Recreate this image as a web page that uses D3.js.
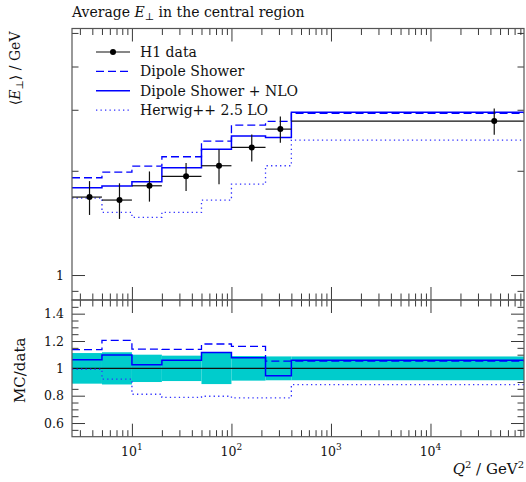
<!DOCTYPE html>
<html>
<head>
<meta charset="utf-8">
<script src="https://cdn.jsdelivr.net/npm/d3@7"></script>
<style>
  body { margin: 0; background: #fff; }
  text { font-family: "DejaVu Serif", "Liberation Serif", serif; fill: #111; }
</style>
</head>
<body>
<div id="container"></div>
<script>
// Chart data
const binEdges = [2.5, 5, 10, 20, 50, 100, 220, 400, 87000]; // Q^2 bins / GeV^2
const h1Data = [1.679, 1.646, 1.810, 1.927, 2.068, 2.336, 2.638, 2.783];
const h1Err = [0.188, 0.194, 0.181, 0.179, 0.238, 0.210, 0.230, 0.242];
const dipoleShower = [1.909, 1.983, 2.064, 2.195, 2.436, 2.710, 2.777, 2.930];
const dipoleNLO = [1.786, 1.807, 1.859, 2.040, 2.309, 2.519, 2.497, 2.950];
const herwigLO = [1.668, 1.517, 1.467, 1.517, 1.646, 1.830, 2.068, 2.453];

const legendLabels = ["H1 data", "Dipole Shower", "Dipole Shower + NLO", "Herwig++ 2.5 LO"];
const xMajorTicks = [10, 100, 1000, 10000];
const xTickExponents = ["1", "2", "3", "4"];
const yMainMajorTicks = [1];
const yMainMinorTicks = [0.9, 2, 3, 4, 5];
const yRatioMajorTicks = [0.6, 0.8, 1, 1.2, 1.4];

// Dimensions
const width = 526;
const height = 482;
const plotLeft = 72;
const plotRight = 524;
const mainTop = 28.5;
const mainBottom = 300;
const ratioBottom = 436.7;

const blue = "#0000ff";
const frameColour = "#555";

// Scales
const x = d3.scaleLog().domain([2.5, 87000]).range([plotLeft, plotRight]);
const y = d3.scaleLog().domain([0.847, 5.15]).range([mainBottom, mainTop]);
const yr = d3.scaleLinear().domain([0.5, 1.5]).range([ratioBottom, mainBottom]);

const svg = d3.create("svg").attr("width", width).attr("height", height);
document.getElementById("container").appendChild(svg.node());

// minor x ticks: 2..9 times each decade inside the domain
const xMinorTicks = [];
for (let d = 0; d <= 4; d++) {
  for (let k = 2; k <= 9; k++) {
    const v = k * Math.pow(10, d);
    if (v > 2.5 && v < 87000) xMinorTicks.push(v);
  }
}
const yRatioMinorTicks = d3.range(0.55, 1.5, 0.05).filter(v => !yRatioMajorTicks.some(m => Math.abs(m - v) < 1e-6));

// draw a set of ticks with a d3 axis, no labels, no domain line
const ticks = (axis, values, size, transform) => {
  const g = svg.append("g")
    .attr("transform", transform)
    .call(axis.tickValues(values).tickSize(size).tickFormat(""));
  g.select(".domain").remove();
  g.selectAll("line").attr("stroke", "#222").attr("stroke-width", 0.9);
  return g;
};

// x ticks on all four horizontal edges
[[mainTop, d3.axisBottom], [mainBottom, d3.axisTop], [mainBottom, d3.axisBottom], [ratioBottom, d3.axisTop]]
  .forEach(([yy, ax]) => {
    ticks(ax(x), xMinorTicks, 6.5, `translate(0,${yy})`);
    ticks(ax(x), xMajorTicks, 13, `translate(0,${yy})`);
  });

// y ticks main panel (left and right)
ticks(d3.axisRight(y), yMainMinorTicks, 6.5, `translate(${plotLeft},0)`);
ticks(d3.axisRight(y), yMainMajorTicks, 13, `translate(${plotLeft},0)`);
ticks(d3.axisLeft(y), yMainMinorTicks, 6.5, `translate(${plotRight},0)`);
ticks(d3.axisLeft(y), yMainMajorTicks, 13, `translate(${plotRight},0)`);
// y ticks ratio panel
ticks(d3.axisRight(yr), yRatioMinorTicks, 6.5, `translate(${plotLeft},0)`);
ticks(d3.axisRight(yr), yRatioMajorTicks, 13, `translate(${plotLeft},0)`);
ticks(d3.axisLeft(yr), yRatioMinorTicks, 6.5, `translate(${plotRight},0)`);
ticks(d3.axisLeft(yr), yRatioMajorTicks, 13, `translate(${plotRight},0)`);

// step line helper
const stepPoints = (vals) => binEdges.map((e, i) => [e, vals[Math.min(i, vals.length - 1)]]);
const stepLine = (yScale) => d3.line().curve(d3.curveStepAfter).x(d => x(d[0])).y(d => yScale(d[1]));

const series = [
  { vals: dipoleShower, dash: "8,4", width: 1.3, colour: blue },
  { vals: dipoleNLO, dash: null, width: 1.5, colour: blue },
  { vals: herwigLO, dash: "1.3,3.2", width: 1.3, colour: "#3030ff" }
];

// ---- main panel ----
series.forEach(s => {
  svg.append("path")
    .datum(stepPoints(s.vals))
    .attr("fill", "none")
    .attr("stroke", s.colour)
    .attr("stroke-width", s.width)
    .attr("stroke-dasharray", s.dash)
    .attr("d", stepLine(y));
});

const points = h1Data.map((v, i) => ({
  lo: binEdges[i], hi: binEdges[i + 1], mid: (binEdges[i] + binEdges[i + 1]) / 2, v, err: h1Err[i]
}));

const dataG = svg.append("g");
dataG.selectAll("line.xerr").data(points).enter().append("line")
  .attr("x1", d => x(d.lo)).attr("x2", d => x(d.hi))
  .attr("y1", d => y(d.v)).attr("y2", d => y(d.v))
  .attr("stroke", "#111").attr("stroke-width", 1.2);
dataG.selectAll("line.yerr").data(points).enter().append("line")
  .attr("x1", d => x(d.mid)).attr("x2", d => x(d.mid))
  .attr("y1", d => y(d.v - d.err)).attr("y2", d => y(d.v + d.err))
  .attr("stroke", "#111").attr("stroke-width", 1.2);
dataG.selectAll("circle").data(points).enter().append("circle")
  .attr("cx", d => x(d.mid)).attr("cy", d => y(d.v)).attr("r", 3)
  .attr("fill", "#000");

// ---- ratio panel ----
svg.append("g").selectAll("rect").data(points).enter().append("rect")
  .attr("x", d => x(d.lo))
  .attr("width", d => x(d.hi) - x(d.lo))
  .attr("y", d => yr(1 + d.err / d.v))
  .attr("height", d => yr(1 - d.err / d.v) - yr(1 + d.err / d.v))
  .attr("fill", "#00cccc");

svg.append("line")
  .attr("x1", plotLeft).attr("x2", plotRight)
  .attr("y1", yr(1)).attr("y2", yr(1))
  .attr("stroke", "#111").attr("stroke-width", 1.2);

series.forEach(s => {
  const ratios = s.vals.map((v, i) => v / h1Data[i]);
  svg.append("path")
    .datum(stepPoints(ratios))
    .attr("fill", "none")
    .attr("stroke", s.colour)
    .attr("stroke-width", s.width)
    .attr("stroke-dasharray", s.dash)
    .attr("d", stepLine(yr));
});

// frames
[[mainTop, mainBottom], [mainBottom, ratioBottom]].forEach(([t, b]) => {
  svg.append("rect")
    .attr("x", plotLeft).attr("y", t)
    .attr("width", plotRight - plotLeft).attr("height", b - t)
    .attr("fill", "none").attr("stroke", frameColour).attr("stroke-width", 1.2);
});

// ---- legend ----
const legend = svg.append("g").attr("transform", "translate(96,52)");
legendLabels.forEach((label, i) => {
  const row = legend.append("g").attr("transform", `translate(0,${i * 19.4})`);
  if (i === 0) {
    row.append("line").attr("x1", 0).attr("x2", 34).attr("stroke", "#111").attr("stroke-width", 1.2);
    row.append("circle").attr("cx", 17).attr("r", 3).attr("fill", "#000");
  } else {
    const s = series[i - 1];
    row.append("line").attr("x1", 0).attr("x2", 34)
      .attr("stroke", s.colour).attr("stroke-width", s.width).attr("stroke-dasharray", s.dash);
  }
  row.append("text").attr("x", 44).attr("y", 4.8).attr("font-size", 14).text(label);
});

// ---- texts ----
const title = svg.append("text").attr("x", plotLeft).attr("y", 17).attr("font-size", 14);
title.append("tspan").text("Average ");
title.append("tspan").attr("font-style", "italic").text("E");
title.append("tspan").attr("font-size", 10).attr("dy", 3).text("⊥");
title.append("tspan").attr("dy", -3).text(" in the central region");

const yLab = svg.append("text")
  .attr("transform", `translate(20,${mainTop + 3}) rotate(-90)`)
  .attr("text-anchor", "end").attr("font-size", 14);
yLab.append("tspan").text("⟨");
yLab.append("tspan").attr("font-style", "italic").text("E");
yLab.append("tspan").attr("font-size", 10).attr("dy", 3).text("⊥");
yLab.append("tspan").attr("dy", -3).text("⟩ / GeV");

svg.append("text")
  .attr("transform", `translate(25,${yr(1) + 2}) rotate(-90)`)
  .attr("text-anchor", "middle").attr("font-size", 15)
  .text("MC/data");

// y tick labels
svg.append("g").selectAll("text").data(yMainMajorTicks).enter().append("text")
  .attr("x", plotLeft - 8).attr("y", d => y(d) + 4.5)
  .attr("text-anchor", "end").attr("font-size", 12.5)
  .text(d => d);
svg.append("g").selectAll("text").data(yRatioMajorTicks).enter().append("text")
  .attr("x", plotLeft - 8).attr("y", d => yr(d) + 4.5)
  .attr("text-anchor", "end").attr("font-size", 12.5)
  .text(d => d3.format("")(d));

// x tick labels 10^n
xMajorTicks.forEach((v, i) => {
  const t = svg.append("text")
    .attr("x", x(v)).attr("y", ratioBottom + 19)
    .attr("text-anchor", "middle").attr("font-size", 12.5);
  t.append("tspan").text("10");
  t.append("tspan").attr("font-size", 9).attr("dy", -6).text(xTickExponents[i]);
});

const xLab = svg.append("text")
  .attr("x", plotRight).attr("y", 474)
  .attr("text-anchor", "end").attr("font-size", 15);
xLab.append("tspan").attr("font-style", "italic").text("Q");
xLab.append("tspan").attr("font-size", 10).attr("dy", -6).text("2");
xLab.append("tspan").attr("dy", 6).text(" / GeV");
xLab.append("tspan").attr("font-size", 10).attr("dy", -6).text("2");
</script>
</body>
</html>
